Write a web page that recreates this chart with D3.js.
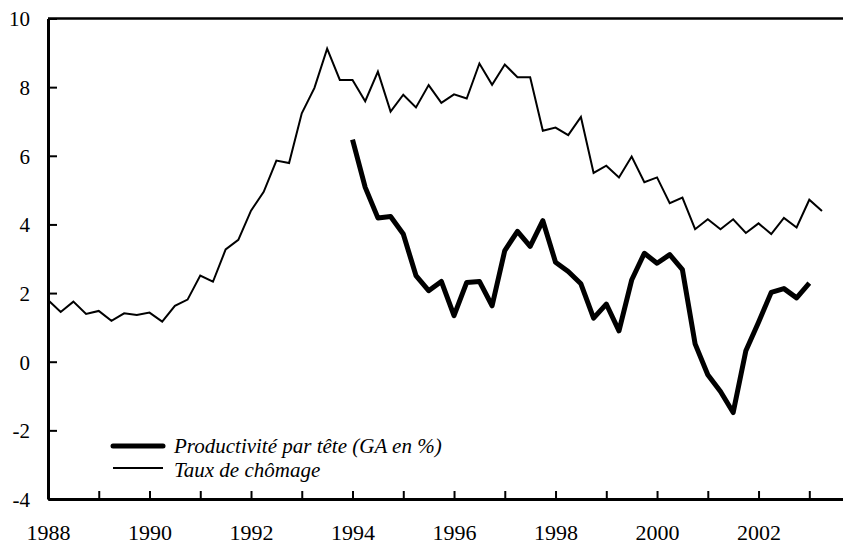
<!DOCTYPE html>
<meta charset="utf-8">
<style>
body { margin: 0; background: #fff; }
.axis path, .axis line { stroke: #000; fill: none; }
</style>
<svg width="843" height="545"></svg>
<script src="https://d3js.org/d3.v7.min.js"></script>
<script>
// quarterly series, first point = 1988 Q1
var startYear = 1988;
var chomage = [1.80, 1.45, 1.75, 1.39, 1.48, 1.19, 1.41, 1.36, 1.43, 1.17, 1.63, 1.81,
  2.51, 2.33, 3.27, 3.55, 4.40, 4.95, 5.86, 5.79, 7.24, 7.98, 9.12, 8.21,
  8.21, 7.59, 8.45, 7.29, 7.78, 7.41, 8.06, 7.54, 7.79, 7.67, 8.69, 8.07,
  8.66, 8.29, 8.29, 6.73, 6.82, 6.60, 7.13, 5.50, 5.71, 5.37, 5.98, 5.23,
  5.37, 4.62, 4.78, 3.86, 4.15, 3.86, 4.15, 3.75, 4.03, 3.72, 4.19, 3.91,
  4.72, 4.39];
// productivity starts 1994 Q1
var prodStart = 1994;
var productivite = [6.47, 5.08, 4.19, 4.23, 3.72, 2.51, 2.07, 2.34, 1.34, 2.31, 2.34, 1.63,
  3.24, 3.80, 3.36, 4.11, 2.90, 2.63, 2.27, 1.27, 1.68, 0.90, 2.38, 3.16,
  2.87, 3.12, 2.68, 0.52, -0.38, -0.87, -1.48, 0.32, 1.15, 2.02, 2.13, 1.86,
  2.29];
var yTicks = [-4, -2, 0, 2, 4, 6, 8, 10];
var xTicks = d3.range(1988, 2004);
var legendLabels = ["Productivité par tête (GA en %)", "Taux de chômage"];

var font = "'Liberation Serif', 'Times New Roman', serif";
var svg = d3.select("svg");

var x = d3.scaleLinear().domain([1988, 2003.664]).range([48, 843]);
var y = d3.scaleLinear().domain([-4, 10]).range([499, 18.5]);

function toPoints(arr, start) {
  return arr.map(function(v, i) { return [start + i / 4, v]; });
}

var line = d3.line()
  .x(function(d) { return x(d[0]); })
  .y(function(d) { return y(d[1]); });

// top border
svg.append("line")
  .attr("x1", 48).attr("x2", 843)
  .attr("y1", y(10)).attr("y2", y(10))
  .attr("stroke", "#000").attr("stroke-width", 2.5);

// y axis, ticks pointing inward; plain hyphen for negatives like the original
var yAxis = svg.append("g")
  .attr("class", "axis")
  .attr("transform", "translate(48,0)")
  .call(d3.axisRight(y).tickValues(yTicks).tickSize(9).tickSizeOuter(0)
    .tickFormat(function(d) { return String(d); }));
yAxis.select(".domain").attr("stroke-width", 3);
yAxis.selectAll(".tick line").attr("stroke-width", 2);
yAxis.selectAll(".tick text")
  .attr("x", -18).attr("text-anchor", "end").attr("dy", "0.35em")
  .style("font-family", font).style("font-size", "21px").style("fill", "#000");

// x axis, ticks pointing up
var xAxis = svg.append("g")
  .attr("class", "axis")
  .attr("transform", "translate(0,499)")
  .call(d3.axisTop(x).tickValues(xTicks).tickSize(8).tickSizeOuter(0)
    .tickFormat(function(d) { return d % 2 === 0 ? d : ""; }));
xAxis.select(".domain").attr("stroke-width", 3);
xAxis.selectAll(".tick line").attr("stroke-width", 2);
xAxis.selectAll(".tick text")
  .attr("y", 33).attr("dy", "0.35em")
  .style("font-family", font).style("font-size", "22px").style("fill", "#000");

svg.append("path")
  .datum(toPoints(chomage, startYear))
  .attr("fill", "none").attr("stroke", "#000")
  .attr("stroke-width", 2).attr("stroke-linejoin", "miter")
  .attr("d", line);

svg.append("path")
  .datum(toPoints(productivite, prodStart))
  .attr("fill", "none").attr("stroke", "#000")
  .attr("stroke-width", 5).attr("stroke-linejoin", "round")
  .attr("d", line);

// legend
var legend = svg.append("g").attr("transform", "translate(113,446)");
legendLabels.forEach(function(label, i) {
  legend.append("line")
    .attr("x1", 0).attr("x2", 50)
    .attr("y1", i * 22).attr("y2", i * 22)
    .attr("stroke", "#000")
    .attr("stroke-width", i === 0 ? 5 : 2)
    .attr("stroke-linecap", i === 0 ? "round" : "butt");
  legend.append("text")
    .attr("x", 61).attr("y", i * 24 + 7)
    .style("font-family", font)
    .style("font-size", "21px").style("font-style", "italic")
    .text(label);
});
</script>
